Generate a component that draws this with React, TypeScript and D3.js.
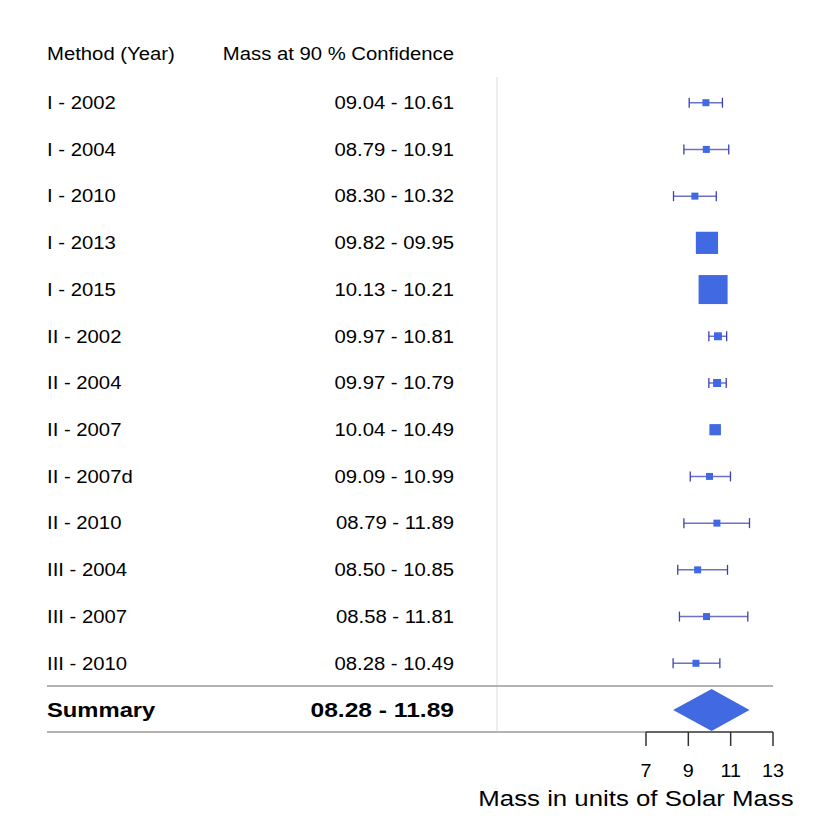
import * as d3 from 'd3'

// forest plot data
const methods = [
  'I - 2002', 'I - 2004', 'I - 2010', 'I - 2013', 'I - 2015',
  'II - 2002', 'II - 2004', 'II - 2007', 'II - 2007d', 'II - 2010',
  'III - 2004', 'III - 2007', 'III - 2010',
]
const lower = [9.04, 8.79, 8.3, 9.82, 10.13, 9.97, 9.97, 10.04, 9.09, 8.79, 8.5, 8.58, 8.28]
const upper = [10.61, 10.91, 10.32, 9.95, 10.21, 10.81, 10.79, 10.49, 10.99, 11.89, 10.85, 11.81, 10.49]
const mean = [9.83, 9.85, 9.31, 9.88, 10.17, 10.4, 10.36, 10.27, 10.0, 10.35, 9.44, 9.86, 9.36]

const summaryLabel = 'Summary'
const summaryLower = 8.28
const summaryMean = 10.1
const summaryUpper = 11.89

const xTicks = [7, 9, 11, 13]
const headers = ['Method (Year)', 'Mass at 90 % Confidence']
const xLabel = 'Mass in units of Solar Mass'

const W = 830
const H = 830
const FONT = '"Liberation Sans", Arial, Helvetica, sans-serif'
const STRETCH = 1.16
const BLUE = '#4169E1'
const CI = '#3b40b4'

const fmt = d3.format('05.2f')

function Txt({ x, y, anchor = 'start', size = 17.5, bold = false, sx = STRETCH, children }: any) {
  return (
    <text
      transform={`translate(${x},${y}) scale(${sx},1)`}
      textAnchor={anchor}
      fontSize={size}
      fontWeight={bold ? 'bold' : 'normal'}
      fontFamily={FONT}
      fill="#000"
      dy="0.36em"
    >
      {children}
    </text>
  )
}

export default function App() {
  const left = 47
  const right = 773
  const valueRight = 454
  const divider = 497

  const x = d3.scaleLinear().domain([7, 13]).range([646, 773])
  const y = d3.scalePoint<string>().domain([...methods, summaryLabel]).range([102.7, 710])
  const headerY = 54
  const sepY = 686
  const bottomY = 732

  // box size grows with precision (1 / CI width)
  const precision = methods.map((_, i) => 1 / (upper[i] - lower[i]))
  const box = d3.scalePow().exponent(0.55).domain([0, d3.max(precision)!]).range([0, 29])
  const boxSize = (i: number) => Math.max(7, box(precision[i]))

  const sy = y(summaryLabel)!
  const diamondH = 21

  return (
    <svg width={W} height={H} style={{ position: 'absolute', left: 0, top: 0, background: '#fff' }}>
      {/* vertical divider */}
      <line x1={divider} x2={divider} y1={77} y2={bottomY} stroke="#e3e3e3" strokeWidth={1.2} />

      {/* header */}
      <Txt x={left} y={headerY}>{headers[0]}</Txt>
      <Txt x={valueRight} y={headerY} anchor="end">{headers[1]}</Txt>

      {/* rows */}
      {methods.map((m, i) => {
        const cy = y(m)!
        const s = boxSize(i)
        return (
          <g key={m}>
            <Txt x={left} y={cy}>{m}</Txt>
            <Txt x={valueRight} y={cy} anchor="end">{`${fmt(lower[i])} - ${fmt(upper[i])}`}</Txt>
            <line x1={x(lower[i])} x2={x(upper[i])} y1={cy} y2={cy} stroke={CI} strokeOpacity={0.75} strokeWidth={1.5} />
            <line x1={x(lower[i])} x2={x(lower[i])} y1={cy - 5} y2={cy + 5} stroke={CI} strokeWidth={1.3} />
            <line x1={x(upper[i])} x2={x(upper[i])} y1={cy - 5} y2={cy + 5} stroke={CI} strokeWidth={1.3} />
            <rect x={x(mean[i]) - s / 2} y={cy - s / 2} width={s} height={s} fill={BLUE} />
          </g>
        )
      })}

      {/* separators */}
      <line x1={left} x2={right} y1={sepY} y2={sepY} stroke="#b3b3b3" strokeWidth={1.8} />
      <line x1={left} x2={x(7)} y1={bottomY} y2={bottomY} stroke="#b3b3b3" strokeWidth={1.8} />

      {/* summary */}
      <Txt x={left} y={sy} bold size={20.5}>{summaryLabel}</Txt>
      <Txt x={valueRight} y={sy} anchor="end" bold size={20.5} sx={1.2}>{`${fmt(summaryLower)} - ${fmt(summaryUpper)}`}</Txt>
      <polygon
        points={[
          [x(summaryLower), sy],
          [x(summaryMean), sy - diamondH],
          [x(summaryUpper), sy],
          [x(summaryMean), sy + diamondH],
        ].map(p => p.join(',')).join(' ')}
        fill={BLUE}
      />

      {/* x axis */}
      <line x1={x(7)} x2={x(13)} y1={bottomY} y2={bottomY} stroke="#333" strokeWidth={1.5} />
      {xTicks.map(t => (
        <g key={t}>
          <line x1={x(t)} x2={x(t)} y1={bottomY} y2={bottomY + 14} stroke="#333" strokeWidth={1.5} />
          <Txt x={x(t)} y={771} anchor="middle" size={18} sx={1.1}>{t}</Txt>
        </g>
      ))}
      <Txt x={636} y={798} anchor="middle" size={21.5} sx={1.2}>{xLabel}</Txt>
    </svg>
  )
}
